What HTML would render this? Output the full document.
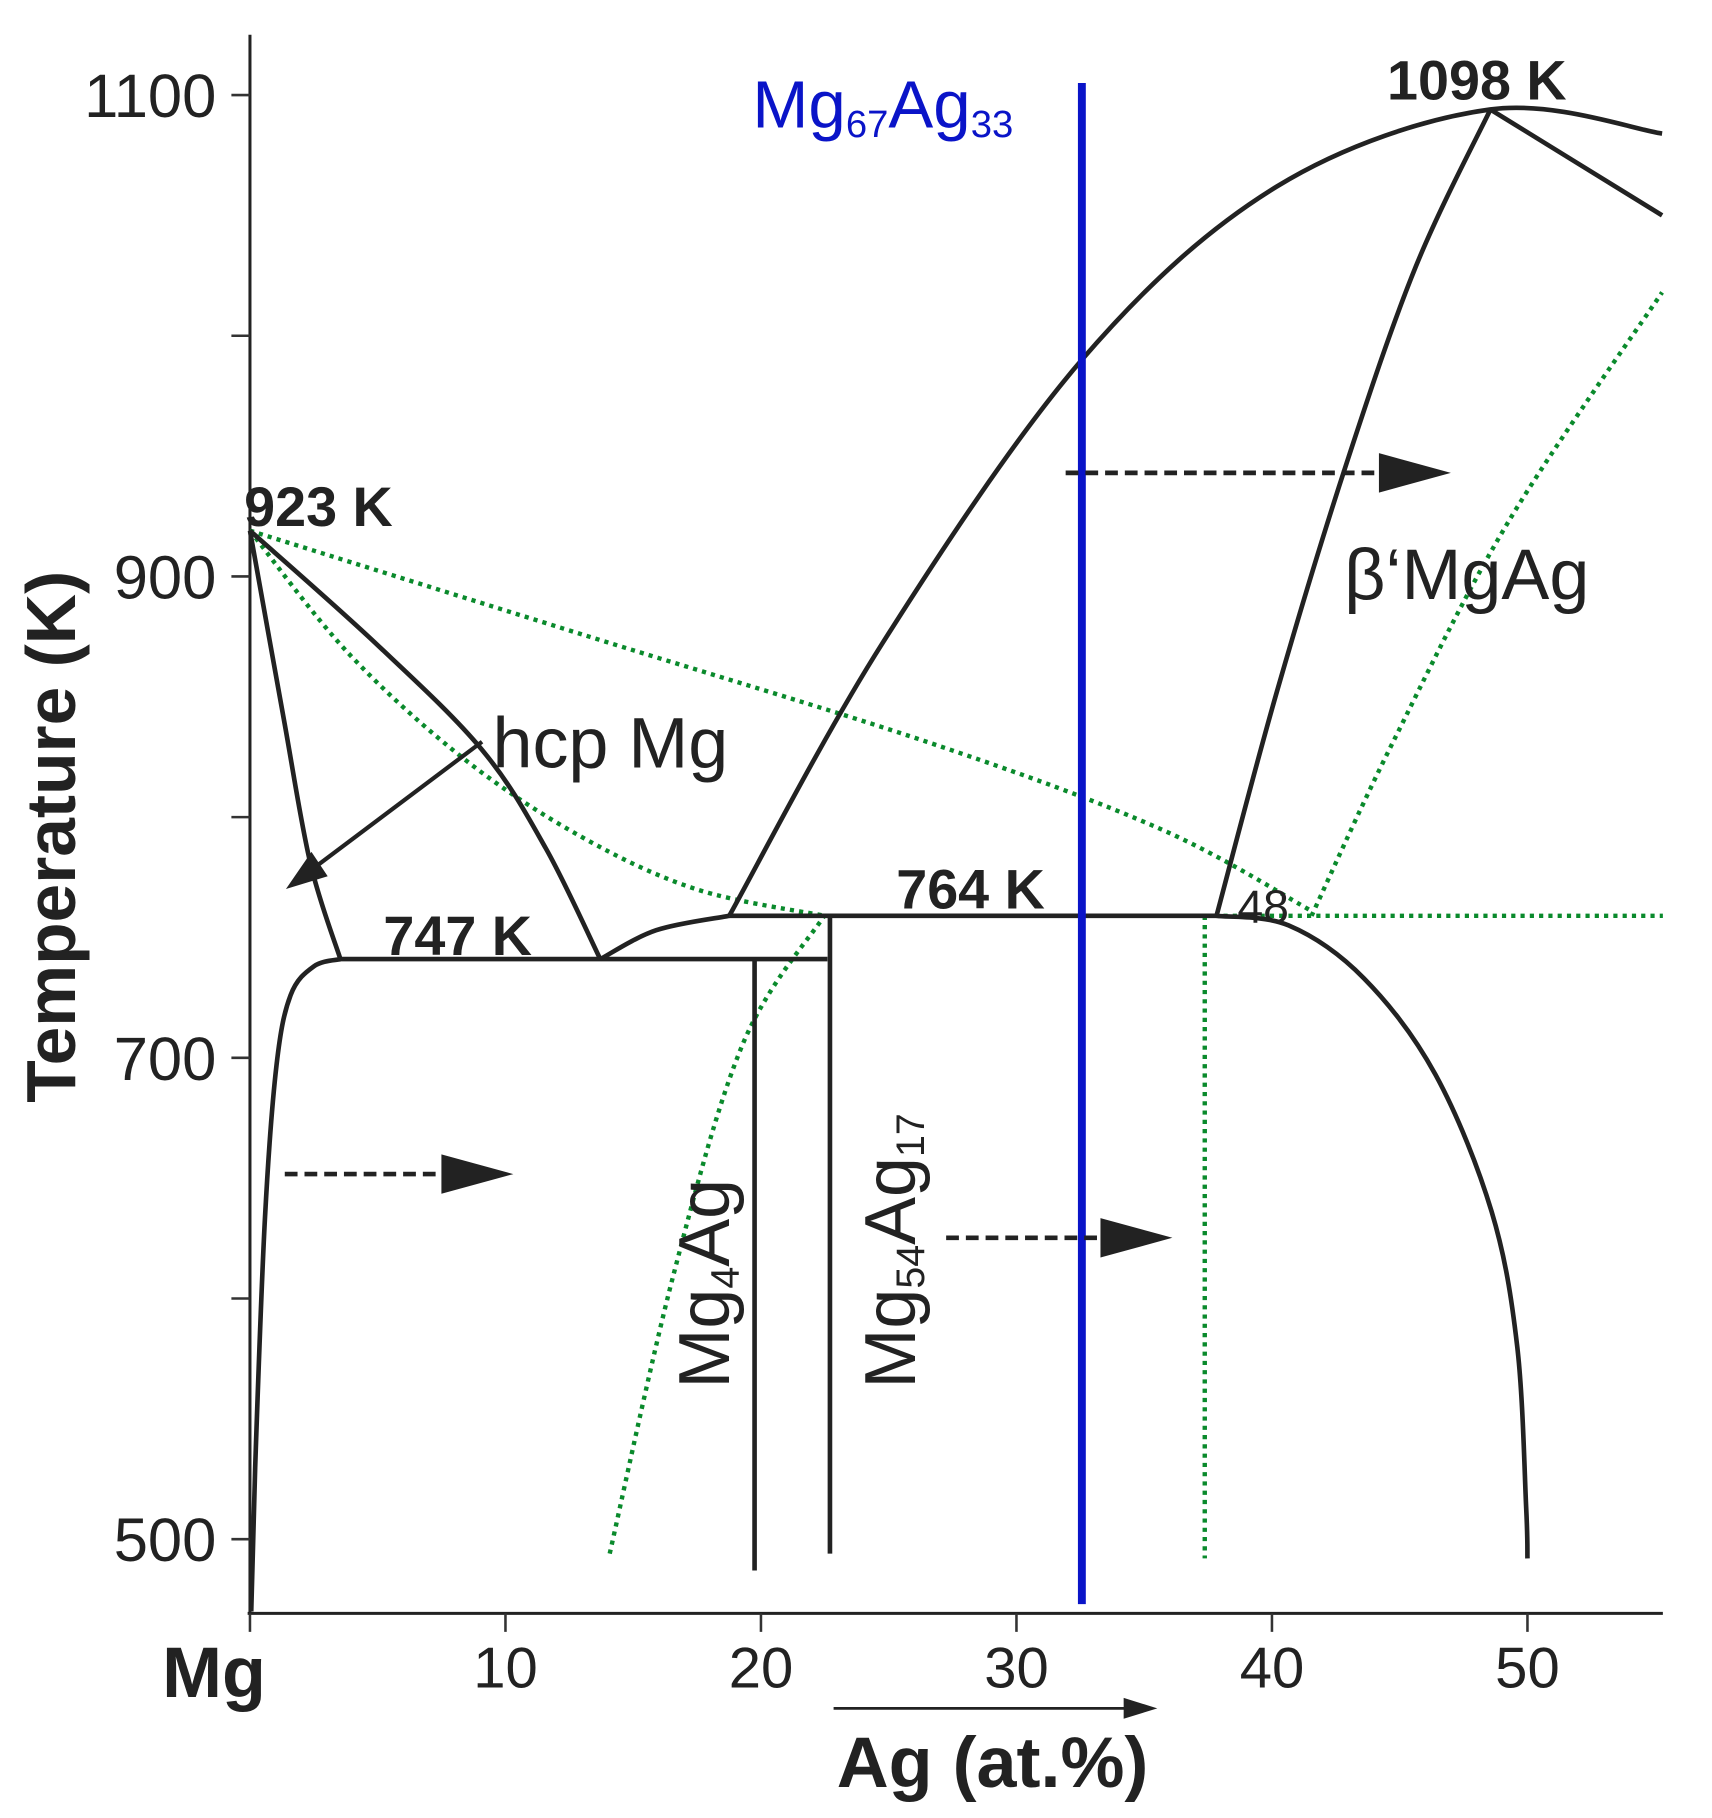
<!DOCTYPE html>
<html><head><meta charset="utf-8"><style>
html,body{margin:0;padding:0;background:#fff;}
svg{display:block;}
text{font-family:"Liberation Sans",Arial,sans-serif;}
</style></head><body>
<svg id="chart" width="1712" height="1818" viewBox="0 0 1712 1818" xmlns="http://www.w3.org/2000/svg">
<rect width="1712" height="1818" fill="#fff"/>
<g id="root" transform="matrix(1.1603 0 0 1.159 0.5 0)"></g>
</svg>
<script>
// ---- data (x: Ag at.%, y: temperature K) ----
const xTicks = [0, 10, 20, 30, 40, 50];
const xTickLabels = ["Mg", "10", "20", "30", "40", "50"];
const yTicks = [1100, 1000, 900, 800, 700, 600, 500];
const yTickLabels = ["1100", "", "900", "", "700", "", "500"];
const liquidusLeftX = [0, 4.94, 9.08, 11.58, 13.71];
const liquidusLeftT = [919, 872, 828, 787, 741];
const solidusLeftX = [0, 1.32, 2.36, 3.54];
const solidusLeftT = [919, 841, 781, 741];
const solvusLeftX = [3.54, 2.5, 1.59, 1.04, 0.59, 0.23, 0.05];
const solvusLeftT = [741, 738, 726, 697, 634, 538, 470];
const eutArcX = [13.71, 15.9, 18.76];
const eutArcT = [741, 753, 759];
const liquidusRightX = [18.76, 24.74, 32.56, 40.19, 48.55, 55.27];
const liquidusRightT = [759, 872, 990, 1062, 1094, 1084];
const branchX = [48.55, 55.27];
const branchT = [1094, 1050];
const betaSolidusX = [37.83, 40.19, 42.92, 45.64, 48.55];
const betaSolidusT = [759, 852, 947, 1029, 1094];
const solvusRightX = [37.83, 40.65, 43.6, 46.4, 48.6, 49.6, 49.95, 50];
const solvusRightT = [759, 755, 733, 693, 636, 580, 513, 492];
const eutectic747 = {x1: 3.54, x2: 22.6, t: 741};
const peritectic764 = {x1: 18.76, x2: 37.83, t: 759};
const mg4agX = 19.75, mg4agT = [741, 487];
const mg54X = 22.7, mg54T = [759, 494];
const blueX = 32.56, blueT = [1105, 473];
const greenUpperX = [0, 13.12, 26.57, 35.65, 41.55];
const greenUpperT = [919, 875.5, 831, 795, 761];
const greenLowerX = [0, 3.86, 8.4, 12.94, 17.48, 22.48];
const greenLowerT = [919, 868, 824, 792, 770, 759];
const greenRiseX = [14.08, 16.58, 19.3, 22.48];
const greenRiseT = [494, 610, 706, 759];
const greenRightX = [41.55, 44.73, 49.27, 55.27];
const greenRightT = [759, 831, 923, 1018];
const greenHoriz = {x1: 22.48, x2: 55.3, t: 759};
const greenVertX = 37.37, greenVertT = [759, 492];

// ---- scales (in inner units) ----
const X = v => 215 + 22.02 * v;
const Y = t => 82 + (1100 - t) * 2.0767;
const NS = "http://www.w3.org/2000/svg";
const root = document.getElementById("root");
function el(tag, attrs, parent) {
  const e = document.createElementNS(NS, tag);
  for (const k in attrs) e.setAttribute(k, attrs[k]);
  (parent || root).appendChild(e);
  return e;
}
function smooth(xs, ts) {
  const p = xs.map((x, i) => [X(x), Y(ts[i])]);
  let d = "M" + p[0][0] + "," + p[0][1];
  for (let i = 0; i < p.length - 1; i++) {
    const p0 = p[i - 1] || p[i], p1 = p[i], p2 = p[i + 1], p3 = p[i + 2] || p2;
    const c1 = [p1[0] + (p2[0] - p0[0]) / 6, p1[1] + (p2[1] - p0[1]) / 6];
    const c2 = [p2[0] - (p3[0] - p1[0]) / 6, p2[1] - (p3[1] - p1[1]) / 6];
    d += "C" + c1 + " " + c2 + " " + p2;
  }
  return d;
}
const BLK = {fill: "none", stroke: "#222", "stroke-width": 4, "stroke-linejoin": "round"};
const GRN = {fill: "none", stroke: "#0a8a2c", "stroke-width": 3.8, "stroke-dasharray": "3.6 4.4"};
function curve(xs, ts, style, name) {
  const e = el("path", Object.assign({d: smooth(xs, ts)}, style));
  
  
  return e;
}
function line(x1, y1, x2, y2, style, name) {
  const e = el("line", Object.assign({x1: x1, y1: y1, x2: x2, y2: y2}, style));
  
  
  return e;
}
function text(x, y, s, attrs, name) {
  const e = el("text", Object.assign({x: x, y: y}, attrs));
  e.textContent = s;
  
  
  return e;
}

// axes
line(X(0), 30, X(0), 1392, {stroke: "#222", "stroke-width": 2.6}, "y-axis");
line(X(0) - 2, 1392, X(55.3), 1392, {stroke: "#222", "stroke-width": 2.6}, "x-axis");
yTicks.forEach((t, i) => {
  line(X(0) - 16, Y(t), X(0), Y(t), {stroke: "#333", "stroke-width": 2.2}, "y-tick");
  if (yTickLabels[i]) text(186, Y(t) + 19, yTickLabels[i], {"font-size": 53, "text-anchor": "end", fill: "#222"}, "y-tick-label");
});
xTicks.forEach((v, i) => {
  line(X(v), 1392, X(v), 1408, {stroke: "#333", "stroke-width": 2.2}, "x-tick");
  if (i === 0) text(184, 1464, xTickLabels[i], {"font-size": 62, "font-weight": "bold", "text-anchor": "middle", fill: "#222"}, "x-tick-label-mg");
  else text(X(v), 1456, xTickLabels[i], {"font-size": 50, "text-anchor": "middle", fill: "#222"}, "x-tick-label");
});
text(0, 0, "Temperature (K)", {"font-size": 60, "font-weight": "bold", "text-anchor": "middle", fill: "#222", transform: "translate(64,722) rotate(-90)"}, "y-axis-title");
text(855, 1542, "Ag (at.%)", {"font-size": 62, "font-weight": "bold", "text-anchor": "middle", fill: "#222"}, "x-axis-title");
line(718, 1474, 975, 1474, {stroke: "#222", "stroke-width": 2.4}, "x-axis-direction-arrow");
el("polygon", {points: "997,1474 968,1465 968,1483", fill: "#222"});

// green dotted (calculated) lines
curve(greenUpperX, greenUpperT, GRN, "green-upper-dotted");
curve(greenLowerX, greenLowerT, GRN, "green-lower-dotted");
curve(greenRiseX, greenRiseT, GRN, "green-rise-dotted");
curve(greenRightX, greenRightT, GRN, "green-right-dotted");
line(X(greenHoriz.x1), Y(greenHoriz.t), X(greenHoriz.x2), Y(greenHoriz.t), GRN, "green-horizontal-dotted");
line(X(greenVertX), Y(greenVertT[0]), X(greenVertX), Y(greenVertT[1]), GRN, "green-vertical-dotted");

// black phase boundaries
curve(liquidusLeftX, liquidusLeftT, BLK, "liquidus-left");
curve(solidusLeftX, solidusLeftT, BLK, "solidus-left");
curve(solvusLeftX, solvusLeftT, BLK, "solvus-left");
curve(eutArcX, eutArcT, BLK, "eutectic-arc");
curve(liquidusRightX, liquidusRightT, BLK, "liquidus-right");
curve(branchX, branchT, BLK, "liquidus-branch");
curve(betaSolidusX, betaSolidusT, BLK, "beta-solidus");
curve(solvusRightX, solvusRightT, BLK, "solvus-right");
line(X(eutectic747.x1), Y(eutectic747.t), X(eutectic747.x2), Y(eutectic747.t), BLK, "eutectic-747-line");
line(X(peritectic764.x1), Y(peritectic764.t), X(peritectic764.x2), Y(peritectic764.t), BLK, "peritectic-764-line");
line(X(mg4agX), Y(mg4agT[0]), X(mg4agX), Y(mg4agT[1]), BLK, "mg4ag-line");
line(X(mg54X), Y(mg54T[0]), X(mg54X), Y(mg54T[1]), BLK, "mg54ag17-line");

// blue composition line
line(X(blueX), Y(blueT[0]), X(blueX), Y(blueT[1]), {stroke: "#0a14c8", "stroke-width": 6.8}, "mg67ag33-line");

// arrows
line(415, 640, 262, 755, {stroke: "#222", "stroke-width": 3.6}, "hcp-arrow");
el("polygon", {points: "246,767 268,735 282,756", fill: "#222"});
function dashArrow(x1, x2, y, name) {
  line(x1, y, x2 - 60, y, {stroke: "#222", "stroke-width": 4, "stroke-dasharray": "11 6"}, name);
  el("polygon", {points: (x2 - 62) + "," + (y - 17) + " " + x2 + "," + y + " " + (x2 - 62) + "," + (y + 17), fill: "#222"});
}
dashArrow(245, 442, 1013, "dashed-arrow-left");
dashArrow(815, 1010, 1068, "dashed-arrow-middle");
dashArrow(918, 1250, 408, "dashed-arrow-top");

// labels
const B = {"font-size": 48, "font-weight": "bold", fill: "#222"};
text(210, 454, "923 K", B, "label-923k");
text(330, 824, "747 K", B, "label-747k");
text(772, 784, "764 K", B, "label-764k");
text(1195, 86, "1098 K", B, "label-1098k");
text(1066, 796, "48", {"font-size": 40, fill: "#222"}, "label-48");
text(424, 662, "hcp Mg", {"font-size": 62, fill: "#222"}, "label-hcp-mg");
text(1158, 517, "β‘MgAg", {"font-size": 62, fill: "#222"}, "label-beta-mgag");
const t1 = text(648, 110, "Mg", {"font-size": 58, fill: "#0a14c8"}, "label-mg67ag33");
const s1 = el("tspan", {"font-size": 33, dy: 8}, t1); s1.textContent = "67";
const s2 = el("tspan", {"font-size": 58, dy: -8}, t1); s2.textContent = "Ag";
const s3 = el("tspan", {"font-size": 33, dy: 8}, t1); s3.textContent = "33";
const t2 = text(0, 0, "Mg", {"font-size": 62, fill: "#222", transform: "translate(628,1198) rotate(-90)"}, "label-mg4ag");
const u1 = el("tspan", {"font-size": 34, dy: 8}, t2); u1.textContent = "4";
const u2 = el("tspan", {"font-size": 62, dy: -8}, t2); u2.textContent = "Ag";
const t3 = text(0, 0, "Mg", {"font-size": 62, fill: "#222", transform: "translate(788,1198) rotate(-90)"}, "label-mg54ag17");
const v1 = el("tspan", {"font-size": 34, dy: 8}, t3); v1.textContent = "54";
const v2 = el("tspan", {"font-size": 62, dy: -8}, t3); v2.textContent = "Ag";
const v3 = el("tspan", {"font-size": 34, dy: 8}, t3); v3.textContent = "17";
</script>
</body></html>
